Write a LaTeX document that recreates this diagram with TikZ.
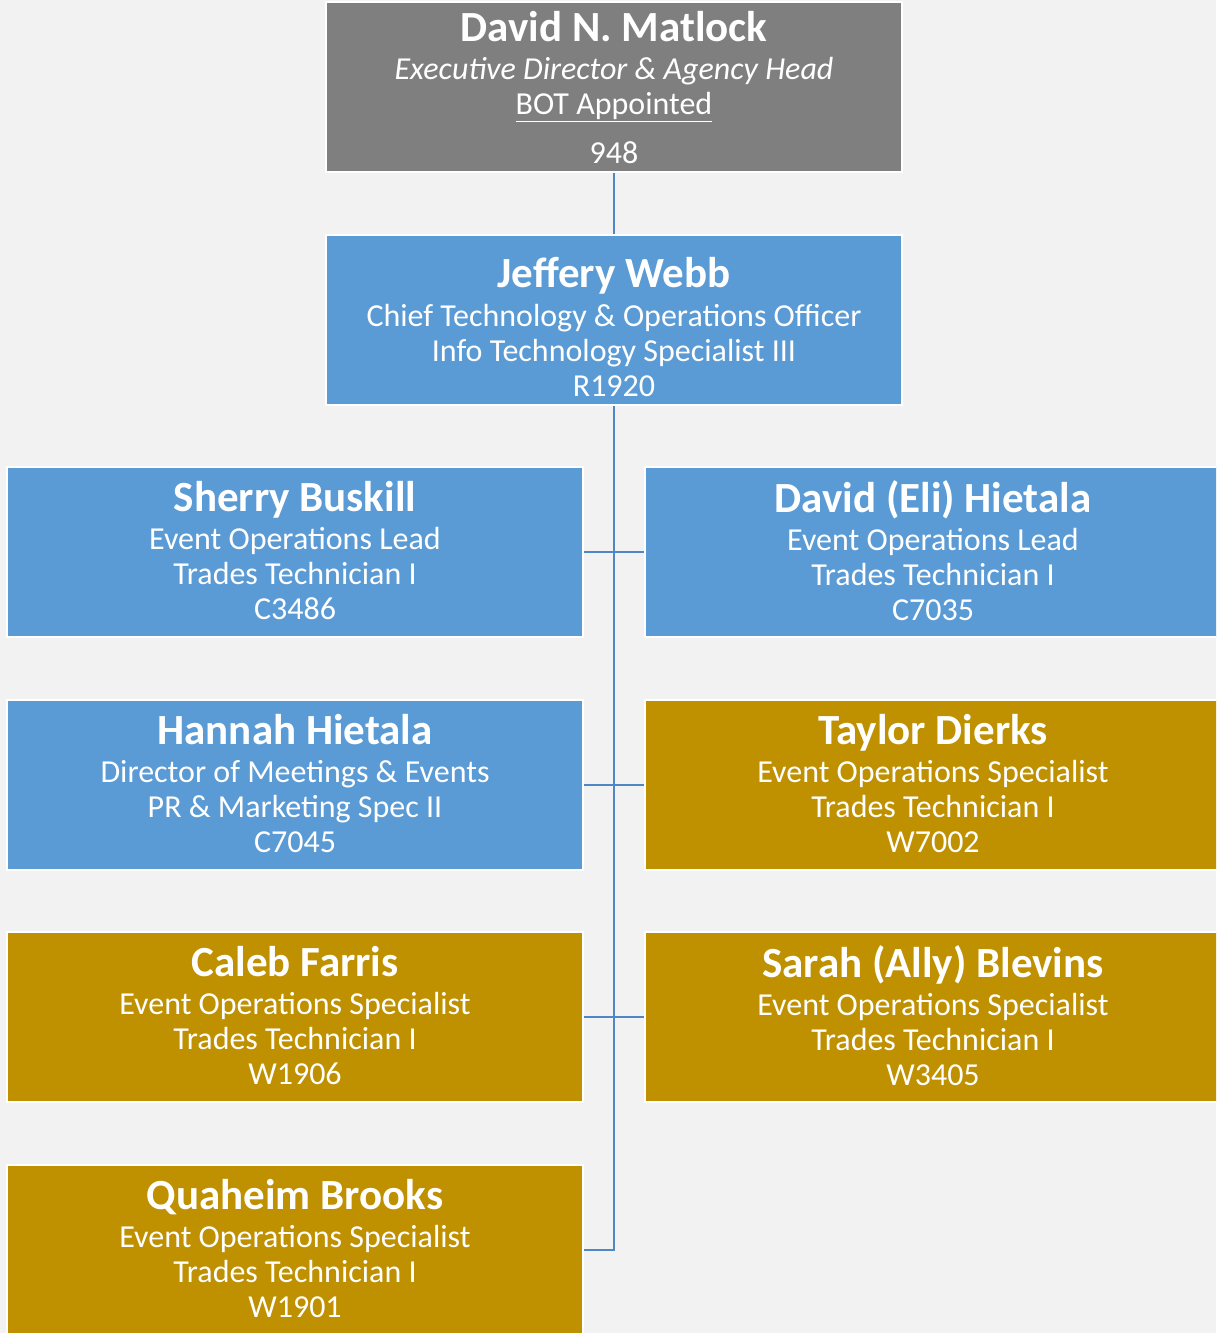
\documentclass[tikz,border=0pt]{standalone}
\usepackage{fontspec}
\setmainfont{Carlito}
\definecolor{bg}{RGB}{242,242,242}
\definecolor{headgray}{RGB}{127,127,127}
\definecolor{staffblue}{RGB}{91,155,213}
\definecolor{staffgold}{RGB}{191,144,0}
\definecolor{linkblue}{RGB}{78,135,195}
\tikzset{
  unitbox/.style={rectangle, draw=white, line width=2.5pt, minimum width=576pt, minimum height=170pt, inner sep=0pt},
  bluebox/.style={unitbox, fill=staffblue},
  goldbox/.style={unitbox, fill=staffgold},
  graybox/.style={unitbox, fill=headgray},
  boxtext/.style={text=white, align=center, font=\fontsize{32}{35}\selectfont, inner sep=0pt},
  stafftext/.style={boxtext, yshift=1pt},
  link/.style={draw=linkblue, line width=2.8pt}
}
\newcommand{\pname}[1]{{\fontsize{43}{44}\selectfont\bfseries #1}}
\begin{document}
\begin{tikzpicture}[x=1pt,y=-1pt]
\fill[bg] (0,0) rectangle (1216,1333);
\useasboundingbox (0,0) rectangle (1216,1333);
\clip (0,0) rectangle (1216,1333);

% boxes
\node[graybox] (dm) at (614,87) {};
\node[bluebox] (jw) at (614,320) {};
\node[bluebox] (sb) at (295,552) {};
\node[bluebox] (eh) at (933,552) {};
\node[bluebox] (hh) at (295,785) {};
\node[goldbox] (td) at (933,785) {};
\node[goldbox] (cf) at (295,1017) {};
\node[goldbox] (ab) at (933,1017) {};
\node[goldbox] (qb) at (295,1250) {};

% connectors
\coordinate (spine) at (614,1250);
\draw[link] (dm.south) -- (jw.north);
\draw[link] (jw.south) -- (spine) -- (qb.east |- spine);
\draw[link] (sb.east) -- (eh.west);
\draw[link] (hh.east) -- (td.west);
\draw[link] (cf.east) -- (ab.west);

% texts (yshift works on the page, so negative is downwards)
\node[boxtext] (dmt) at ([yshift=-0.5]dm.center) {\pname{David N. Matlock}\\[3pt]
  \itshape Executive Director \& Agency Head\\
  \underline{BOT Appointed}\\[14pt] 948};
\node[boxtext] (jwt) at ([yshift=-7]jw.center) {\pname{Jeffery Webb}\\[4pt]
  Chief Technology \& Operations Officer\\ Info Technology Specialist III\\ R1920};
\node[stafftext] (sbt) at (sb.center) {\pname{Sherry Buskill}\\[3pt]
  Event Operations Lead\\ Trades Technician I\\ C3486};
\node[stafftext] (eht) at (eh.center) {\pname{David (Eli) Hietala}\\[3pt]
  Event Operations Lead\\ Trades Technician I\\ C7035};
\node[stafftext] (hht) at (hh.center) {\pname{Hannah Hietala}\\[3pt]
  Director of Meetings \& Events\\ PR \& Marketing Spec II\\ C7045};
\node[stafftext] (tdt) at (td.center) {\pname{Taylor Dierks}\\[3pt]
  Event Operations Specialist\\ Trades Technician I\\ W7002};
\node[stafftext] (cft) at (cf.center) {\pname{Caleb Farris}\\[3pt]
  Event Operations Specialist\\ Trades Technician I\\ W1906};
\node[stafftext] (abt) at (ab.center) {\pname{Sarah (Ally) Blevins}\\[3pt]
  Event Operations Specialist\\ Trades Technician I\\ W3405};
\node[stafftext] (qbt) at (qb.center) {\pname{Quaheim Brooks}\\[3pt]
  Event Operations Specialist\\ Trades Technician I\\ W1901};
\end{tikzpicture}
\end{document}
